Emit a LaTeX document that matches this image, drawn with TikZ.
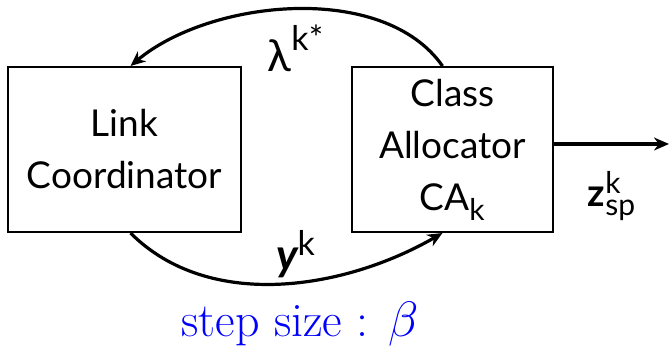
\documentclass[tikz,border=0pt]{standalone}
\usepackage{amsmath}
\usepackage{fontspec}
\setsansfont{Lato}
\usetikzlibrary{arrows.meta,calc,positioning}
\newcommand{\scr}[1]{\text{\fontsize{15}{15}\selectfont #1}}

\begin{document}
\begin{tikzpicture}[>={Stealth[length=7.5pt,width=6.5pt]},thick,
    blk/.style={draw,line width=1pt,minimum width=#1,minimum height=82.5pt,align=center,
      font=\sffamily\fontsize{18.5}{26}\selectfont},
    lab/.style={font=\sffamily\fontsize{19}{22}\selectfont},
    flow/.style={->,line width=1.6pt}]
  \useasboundingbox (0,0) rectangle (335pt,176pt);
  % the two blocks
  \node[blk=116.5pt] (lc) at (62.25pt,101.25pt) {Link\\Coordinator};
  \node[blk=100.5pt] (ca) at (226.25pt,101.25pt) {Class\\Allocator\\CA$_{\scr{k}}$};
  \coordinate (zout) at (334.5pt,104pt);
  % exchange between them
  \draw[flow] ([xshift=-5pt]ca.north) to[out=125,in=40,looseness=0.85] ([xshift=3pt]lc.north);
  \draw[flow] ([xshift=3pt]lc.south) to[out=-45,in=-150,looseness=0.92] ([xshift=-5pt]ca.south);
  \draw[flow] ([yshift=2.75pt]ca.east) -- (zout);
  \node[lab,font=\sffamily\fontsize{22}{26}\selectfont] (lam) at (148pt,152pt)
    {$\text{λ}^{\text{\fontsize{17}{17}\selectfont k*}}$};
  \node[lab,font=\sffamily\fontsize{22}{26}\selectfont] (yk) at (148pt,49pt)
    {$\text{\bfseries\itshape y}^{\text{\fontsize{17}{17}\selectfont k}}$};
  \node[lab] (zsp) at (306pt,78pt) {$\text{\bfseries z}^{\scr{k}}_{\scr{sp}}$};
  \node[blue,font=\fontsize{24}{28}\selectfont] (step) at (150pt,14pt) {step size : $\beta$};
\end{tikzpicture}
\end{document}
